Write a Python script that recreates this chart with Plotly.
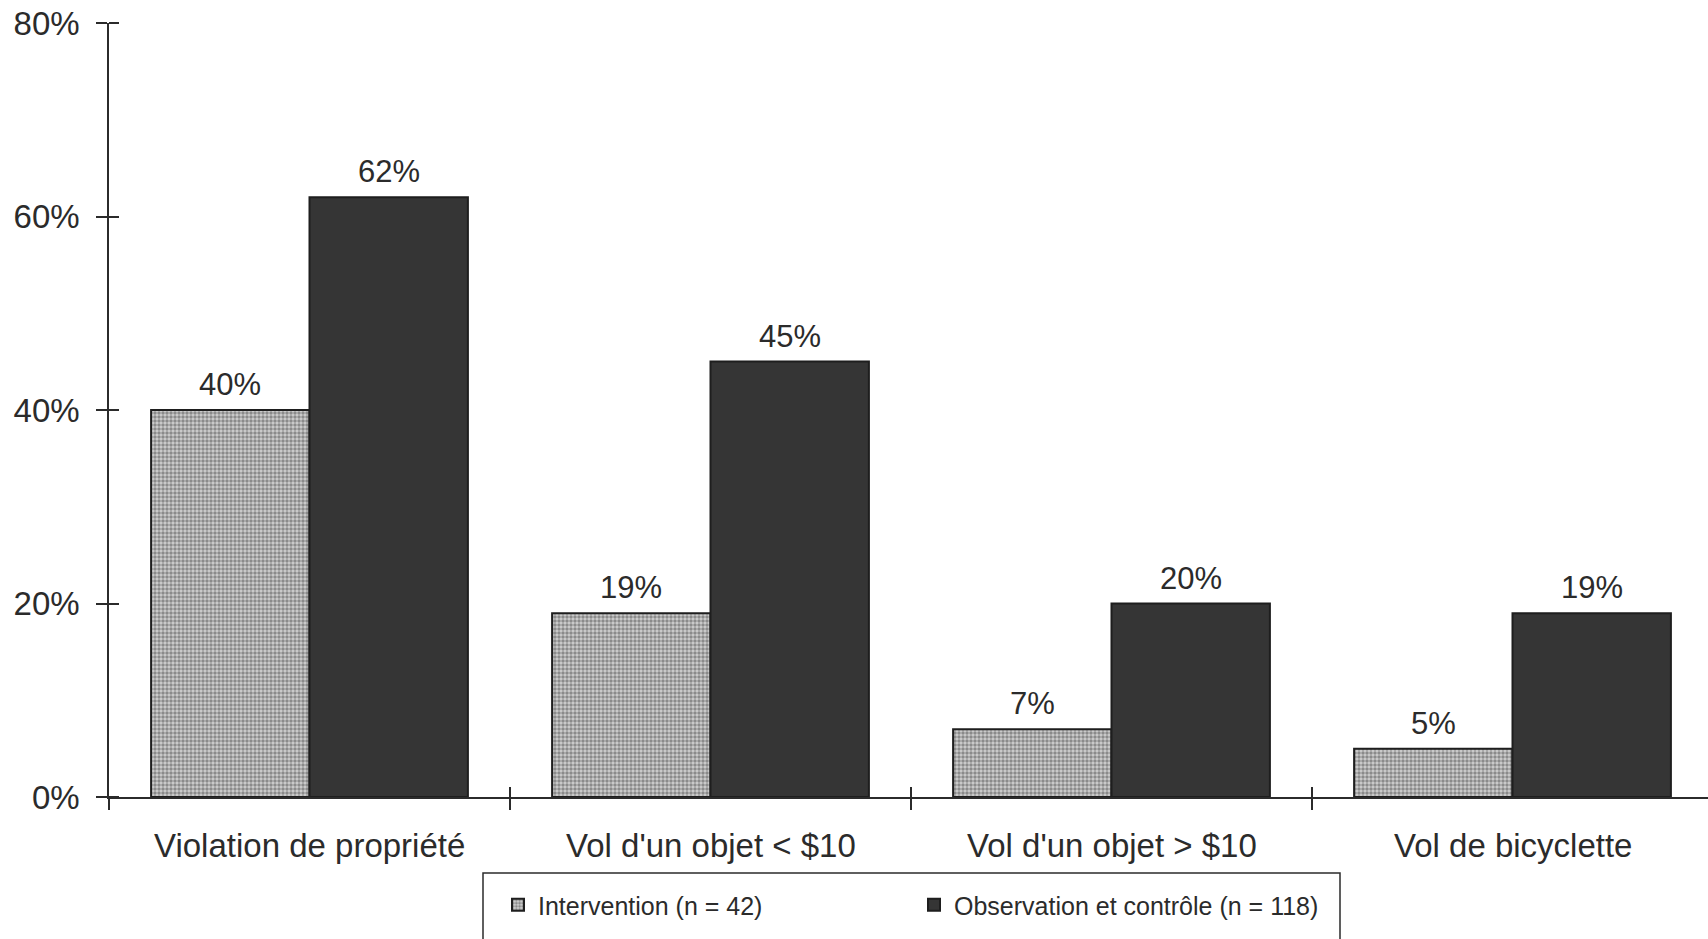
import plotly.graph_objects as go

# ---- data -------------------------------------------------------------
categories = [
    "Violation de propriété",
    "Vol d'un objet < $10",
    "Vol d'un objet > $10",
    "Vol de bicyclette",
]
intervention = [40, 19, 7, 5]
observation = [62, 45, 20, 19]
series_names = ["Intervention (n = 42)", "Observation et contrôle (n = 118)"]
y_ticks = [0, 20, 40, 60, 80]
y_tick_labels = ["0%", "20%", "40%", "60%", "80%"]

# ---- layout constants ---------------------------------------------------
W, H = 1708, 939
M_L, M_R, M_T, M_B = 109, 0, 23, 142
PW = W - M_L - M_R
PH = H - M_T - M_B
CAT_PX = 401            # width of one category slot in pixels
BARGAP = 0.21
FONT = "Liberation Sans, Arial, Helvetica, sans-serif"
INK = "#2b2b2b"
AXIS_W = 1.6
EPS = 1e-6              # keeps inner tick marks distinct from the outer ones

positions = list(range(len(categories)))          # category slots on x
x_range = [-0.5, -0.5 + PW / CAT_PX]
y_range = [0, 80]
boundaries = [p - 0.5 for p in positions]         # slot edges (crossing ticks)


def px_x(p):
    """figure pixel -> paper x"""
    return (p - M_L) / PW


def px_y(p):
    """figure pixel -> paper y"""
    return (H - M_B - p) / PH


fig = go.Figure()

fig.add_trace(go.Bar(
    x=positions, y=intervention, name=series_names[0],
    marker=dict(
        color="#cccccc",
        pattern=dict(shape=".", fgcolor="#444444", bgcolor="#d0d0d0",
                     size=4, solidity=0.6),
        line=dict(color="#1e1e1e", width=2),
    ),
    hoverinfo="skip",
))
fig.add_trace(go.Bar(
    x=positions, y=observation, name=series_names[1],
    marker=dict(color="#353535", line=dict(color="#1e1e1e", width=2)),
    hoverinfo="skip",
))

annotations = []

# category names under each slot
for p, name in zip(positions, categories):
    annotations.append(dict(
        x=p, y=0, xref="x", yref="y",
        text=name.replace("<", "&lt;").replace(">", "&gt;"),
        showarrow=False, yanchor="top", yshift=-28,
        font=dict(family=FONT, size=33, color=INK),
    ))

# value labels above each bar
bar_w = (1 - BARGAP) / 2
for s, vals in enumerate([intervention, observation]):
    off = -bar_w / 2 if s == 0 else bar_w / 2
    for p, v in zip(positions, vals):
        annotations.append(dict(
            x=p + off, y=v, xref="x", yref="y",
            text=f"{v}%", showarrow=False,
            yanchor="bottom", yshift=6,
            font=dict(family=FONT, size=31, color=INK),
        ))

fig.update_layout(
    width=W, height=H,
    margin=dict(l=M_L, r=M_R, t=M_T, b=M_B, pad=0),
    paper_bgcolor="white", plot_bgcolor="white",
    font=dict(family=FONT, color=INK),
    barmode="group", bargap=BARGAP, bargroupgap=0,
    showlegend=True,
    legend=dict(
        orientation="h",
        x=px_x(498), xanchor="left",
        y=px_y(882), yanchor="top",
        entrywidth=371, entrywidthmode="pixels",
        font=dict(family=FONT, size=25, color=INK),
        bgcolor="rgba(0,0,0,0)", borderwidth=0,
    ),
    xaxis=dict(
        range=x_range,
        showline=True, linecolor=INK, linewidth=AXIS_W,
        tickvals=boundaries, ticktext=[""] * len(boundaries),
        ticks="outside", ticklen=11, tickwidth=AXIS_W, tickcolor=INK,
        minor=dict(tickvals=[b + EPS for b in boundaries[1:]],
                   ticks="inside", ticklen=10,
                   tickwidth=AXIS_W, tickcolor=INK, showgrid=False),
        showgrid=False, zeroline=False, fixedrange=True,
    ),
    yaxis=dict(
        range=y_range, tickvals=y_ticks, ticktext=y_tick_labels,
        showline=True, linecolor=INK, linewidth=AXIS_W,
        ticks="outside", ticklen=11, tickwidth=AXIS_W, tickcolor=INK,
        minor=dict(tickvals=[t + EPS for t in y_ticks],
                   ticks="inside", ticklen=10,
                   tickwidth=AXIS_W, tickcolor=INK, showgrid=False),
        tickfont=dict(family=FONT, size=33, color=INK),
        ticklabelstandoff=10,
        showgrid=False, zeroline=False, fixedrange=True,
    ),
    annotations=annotations,
    shapes=[dict(
        type="rect", xref="paper", yref="paper",
        x0=px_x(483), x1=px_x(1340), y0=px_y(873), y1=px_y(1010),
        line=dict(color=INK, width=1.5), fillcolor="rgba(0,0,0,0)",
        layer="below",
    )],
)

fig.write_html("out.html")
